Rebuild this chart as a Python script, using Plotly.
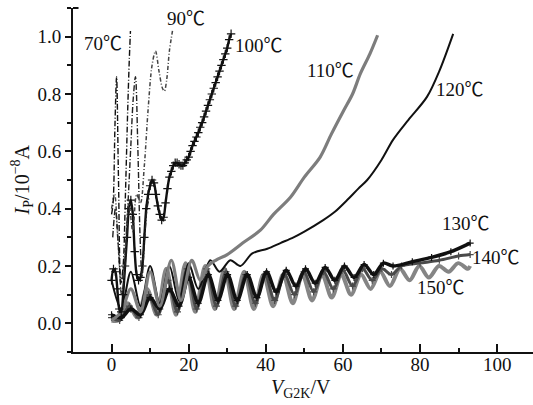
import plotly.graph_objects as go

# ---------------- data ----------------
x70 = [0, 0.4, 0.9, 1.3, 1.8, 2.4, 3.0, 3.6, 4.2, 4.6, 4.9]
y70 = [0.38, 0.42, 0.70, 0.86, 0.50, 0.14, 0.20, 0.45, 0.75, 0.92, 1.02]

x80 = [0.3, 1.0, 1.8, 2.6, 3.4, 4.2, 5.0, 5.6, 6.2, 6.8, 7.4, 7.9, 8.5, 9.2, 9.8]
y80 = [0.30, 0.40, 0.26, 0.10, 0.18, 0.40, 0.62, 0.78, 0.86, 0.62, 0.30, 0.16, 0.28, 0.40, 0.44]

x90 = [0, 0.8, 1.6, 2.5, 3.5, 4.5, 5.5, 6.5, 7.5, 8.5, 9.5, 10.5, 11.4, 12.3, 13.2, 13.7, 14.3, 15.0, 15.8]
y90 = [0.40, 0.45, 0.30, 0.14, 0.25, 0.42, 0.32, 0.45, 0.42, 0.55, 0.75, 0.90, 0.95, 0.88, 0.82, 0.81, 0.85, 0.95, 1.02]

x100 = [0, 0.5, 1, 1.5, 2, 2.5, 3, 3.5, 4, 4.5, 5, 5.5, 6, 6.5, 7, 7.5, 8, 8.5, 9, 9.5,
        10, 10.5, 11, 11.5, 12, 12.5, 13, 13.5, 14, 14.5, 15, 15.5, 16, 16.5, 17, 17.5,
        18, 18.5, 19, 19.5, 20, 20.5, 21, 21.5, 22, 22.5, 23, 23.5, 24, 24.5, 25, 25.5,
        26, 26.5, 27, 27.5, 28, 28.5, 29, 29.5, 30, 30.5, 31]
y100 = [0.15, 0.19, 0.18, 0.12, 0.05, 0.04, 0.10, 0.20, 0.30, 0.40, 0.43, 0.38, 0.25, 0.17, 0.15, 0.16, 0.20, 0.30, 0.40, 0.45,
        0.48, 0.50, 0.49, 0.45, 0.41, 0.38, 0.36, 0.37, 0.42, 0.47, 0.51, 0.53, 0.55, 0.56, 0.56, 0.555,
        0.55, 0.55, 0.56, 0.57, 0.58, 0.60, 0.62, 0.635, 0.65, 0.665, 0.684, 0.70, 0.72, 0.74, 0.76, 0.78,
        0.80, 0.82, 0.84, 0.86, 0.88, 0.90, 0.92, 0.94, 0.96, 0.99, 1.01]

x110 = [0, 2.5, 5, 7.5, 10, 12.5, 15.5, 18, 20.8, 23, 25, 27, 30, 34, 38.6, 42, 46.4, 50, 54.1, 57, 60.1, 62.5, 64.5, 67, 69]
y110 = [0.01, 0.04, 0.12, 0.04, 0.18, 0.06, 0.22, 0.08, 0.22, 0.15, 0.20, 0.22, 0.24, 0.28, 0.325, 0.38, 0.44, 0.51, 0.58, 0.66, 0.74, 0.80, 0.87, 0.94, 1.005]

x120 = [0, 2.5, 5, 7.5, 10, 12.5, 15, 17.5, 20, 22.5, 25.6, 28, 30.8, 33.4, 36.5, 40.4, 43.8, 47.2, 50,
        54.9, 58, 61.1, 64, 66.3, 70, 73, 77, 81.8, 85, 88.6]
y120 = [0.15, 0.05, 0.18, 0.06, 0.20, 0.07, 0.20, 0.08, 0.21, 0.12, 0.22, 0.18, 0.22, 0.20, 0.244, 0.26, 0.28, 0.30, 0.32,
        0.36, 0.39, 0.43, 0.47, 0.50, 0.57, 0.64, 0.71, 0.79, 0.88, 1.01]

x130 = [0, 2.5, 5, 7.5, 10, 12.5, 15, 17.5, 20, 22.5, 25.1, 27.6, 30.1, 32.6, 35.2, 37.7, 40.2, 42.7,
        45.3, 47.8, 50.3, 52.8, 55.4, 57.9, 60.4, 62.9, 65.5, 68.0, 70.5, 73, 78, 83, 88, 93]
y130 = [0.03, 0.02, 0.05, 0.03, 0.09, 0.05, 0.12, 0.06, 0.16, 0.07, 0.17, 0.08, 0.17, 0.08, 0.17, 0.09, 0.18, 0.11,
        0.185, 0.13, 0.19, 0.14, 0.195, 0.15, 0.20, 0.16, 0.205, 0.17, 0.21, 0.20, 0.215, 0.23, 0.25, 0.28]

x140 = [0, 2.1, 4.6, 7.1, 9.6, 12.1, 14.6, 17.1, 19.6, 22.1, 24.7, 27.2, 29.7, 32.2, 34.8, 37.3, 39.8, 42.3,
        44.9, 47.4, 49.9, 52.4, 55.0, 57.5, 60.0, 62.5, 65.1, 67.6, 70.1, 72.6, 75.2, 80, 85, 90, 93]
y140 = [0.02, 0.01, 0.06, 0.02, 0.10, 0.03, 0.15, 0.04, 0.19, 0.05, 0.19, 0.06, 0.18, 0.06, 0.17, 0.07, 0.17, 0.08,
        0.17, 0.10, 0.18, 0.11, 0.18, 0.12, 0.185, 0.13, 0.19, 0.15, 0.19, 0.17, 0.20, 0.21, 0.22, 0.235, 0.24]

x150 = [0, 1.7, 4.2, 6.7, 9.2, 11.7, 14.2, 16.7, 19.2, 21.7, 24.3, 26.8, 29.3, 31.8, 34.4, 36.9, 39.4, 41.9,
        44.5, 47.0, 49.5, 52.0, 54.6, 57.1, 59.6, 62.1, 64.7, 67.2, 69.7, 72.2, 74.8, 77.3, 79.8, 82.3,
        84.9, 87.4, 89.9, 92.4, 93]
y150 = [0.01, 0.01, 0.07, 0.02, 0.12, 0.03, 0.19, 0.03, 0.21, 0.04, 0.20, 0.05, 0.19, 0.05, 0.18, 0.05, 0.17, 0.06,
        0.17, 0.07, 0.17, 0.08, 0.17, 0.09, 0.17, 0.10, 0.17, 0.12, 0.18, 0.13, 0.19, 0.15, 0.20, 0.16,
        0.20, 0.18, 0.21, 0.19, 0.20]

label_text = ["70℃", "90℃", "100℃", "110℃", "120℃", "130℃", "140℃", "150℃"]
label_x = [-2.1, 19.2, 38.3, 56.7, 90.4, 92.0, 99.7, 85.5]
label_y = [0.977, 1.065, 0.97, 0.883, 0.817, 0.349, 0.23, 0.126]

x_title = "<i>V</i><sub>G2K</sub>/V"
y_title = "<i>I</i><sub>P</sub>/10<sup>−8</sup>A"

# ---------------- figure ----------------
FONT = "Liberation Serif, Times New Roman, Noto Sans CJK SC, serif"
fig = go.Figure()

def add(x, y, color, width, dash="solid", shape="linear", markers=False, msize=4):
    fig.add_trace(go.Scatter(
        x=x, y=y, mode="lines+markers" if markers else "lines",
        line=dict(color=color, width=width, dash=dash, shape=shape, smoothing=0.9),
        marker=dict(symbol="cross-thin", size=msize, color=color, line=dict(width=1.2, color=color)),
        showlegend=False, hoverinfo="skip"))

add(x150, y150, "#858585", 4.0, shape="spline")
add(x140, y140, "#4a4a4a", 3.0, shape="spline", markers=True, msize=5)
add(x130, y130, "#111111", 3.5, shape="spline", markers=True, msize=5)
add(x120, y120, "#111111", 2.0, shape="spline")
add(x110, y110, "#7d7d7d", 3.2, shape="spline")
add(x100, y100, "#111111", 2.4, shape="spline", markers=True, msize=6)
add(x90, y90, "#444444", 1.5, dash="4px,2px,1px,2px", shape="spline")
add(x80, y80, "#222222", 1.4, dash="6px,2px,1px,2px", shape="spline")
add(x70, y70, "#111111", 1.4, dash="6px,2px,1px,2px", shape="spline")

annotations = []
for t, xx, yy in zip(label_text, label_x, label_y):
    annotations.append(dict(x=xx, y=yy, xref="x", yref="y", text=t, showarrow=False,
                            font=dict(family=FONT, size=19, color="#111"),
                            xanchor="center", yanchor="middle"))
annotations.append(dict(x=49.2, y=-0.105, xref="x", yref="paper", text=x_title, showarrow=False,
                        font=dict(family=FONT, size=20, color="#111"), xanchor="center", yanchor="middle"))
annotations.append(dict(x=-0.11, y=0.5, xref="paper", yref="paper", text=y_title, showarrow=False,
                        textangle=-90, font=dict(family=FONT, size=20, color="#111"),
                        xanchor="center", yanchor="middle"))

fig.update_layout(
    width=533, height=405,
    margin=dict(l=73, r=0, t=8, b=53, autoexpand=False),
    paper_bgcolor="white", plot_bgcolor="white",
    font=dict(family=FONT, size=19, color="#111"),
    annotations=annotations,
    shapes=[dict(type="line", xref="paper", yref="paper", x0=0, x1=0.012, y0=1, y1=1,
                 line=dict(color="#111", width=2))],
)
fig.update_xaxes(range=[-10, 109.3], showgrid=False, zeroline=False, showline=True,
                 linecolor="#111", linewidth=2, ticks="inside", ticklen=8, tickwidth=1.5,
                 tickcolor="#111", tick0=0, dtick=20, ticklabelstandoff=-6, automargin=False,
                 minor=dict(ticks="inside", ticklen=4, tickcolor="#111", dtick=10, tick0=0),
                 tickfont=dict(family=FONT, size=19, color="#111"))
fig.update_yaxes(range=[-0.1, 1.1], showgrid=False, zeroline=False, showline=True,
                 linecolor="#111", linewidth=2, ticks="outside", ticklen=6, tickwidth=1.5,
                 tickcolor="#111", tick0=0, dtick=0.2, tickformat=".1f", automargin=False,
                 minor=dict(ticks="outside", ticklen=4, tickcolor="#111", dtick=0.1, tick0=0),
                 tickfont=dict(family=FONT, size=19, color="#111"))

fig.write_html("out.html", config={"displayModeBar": False},
               post_script="document.body.style.margin='0';document.body.style.padding='0';")
